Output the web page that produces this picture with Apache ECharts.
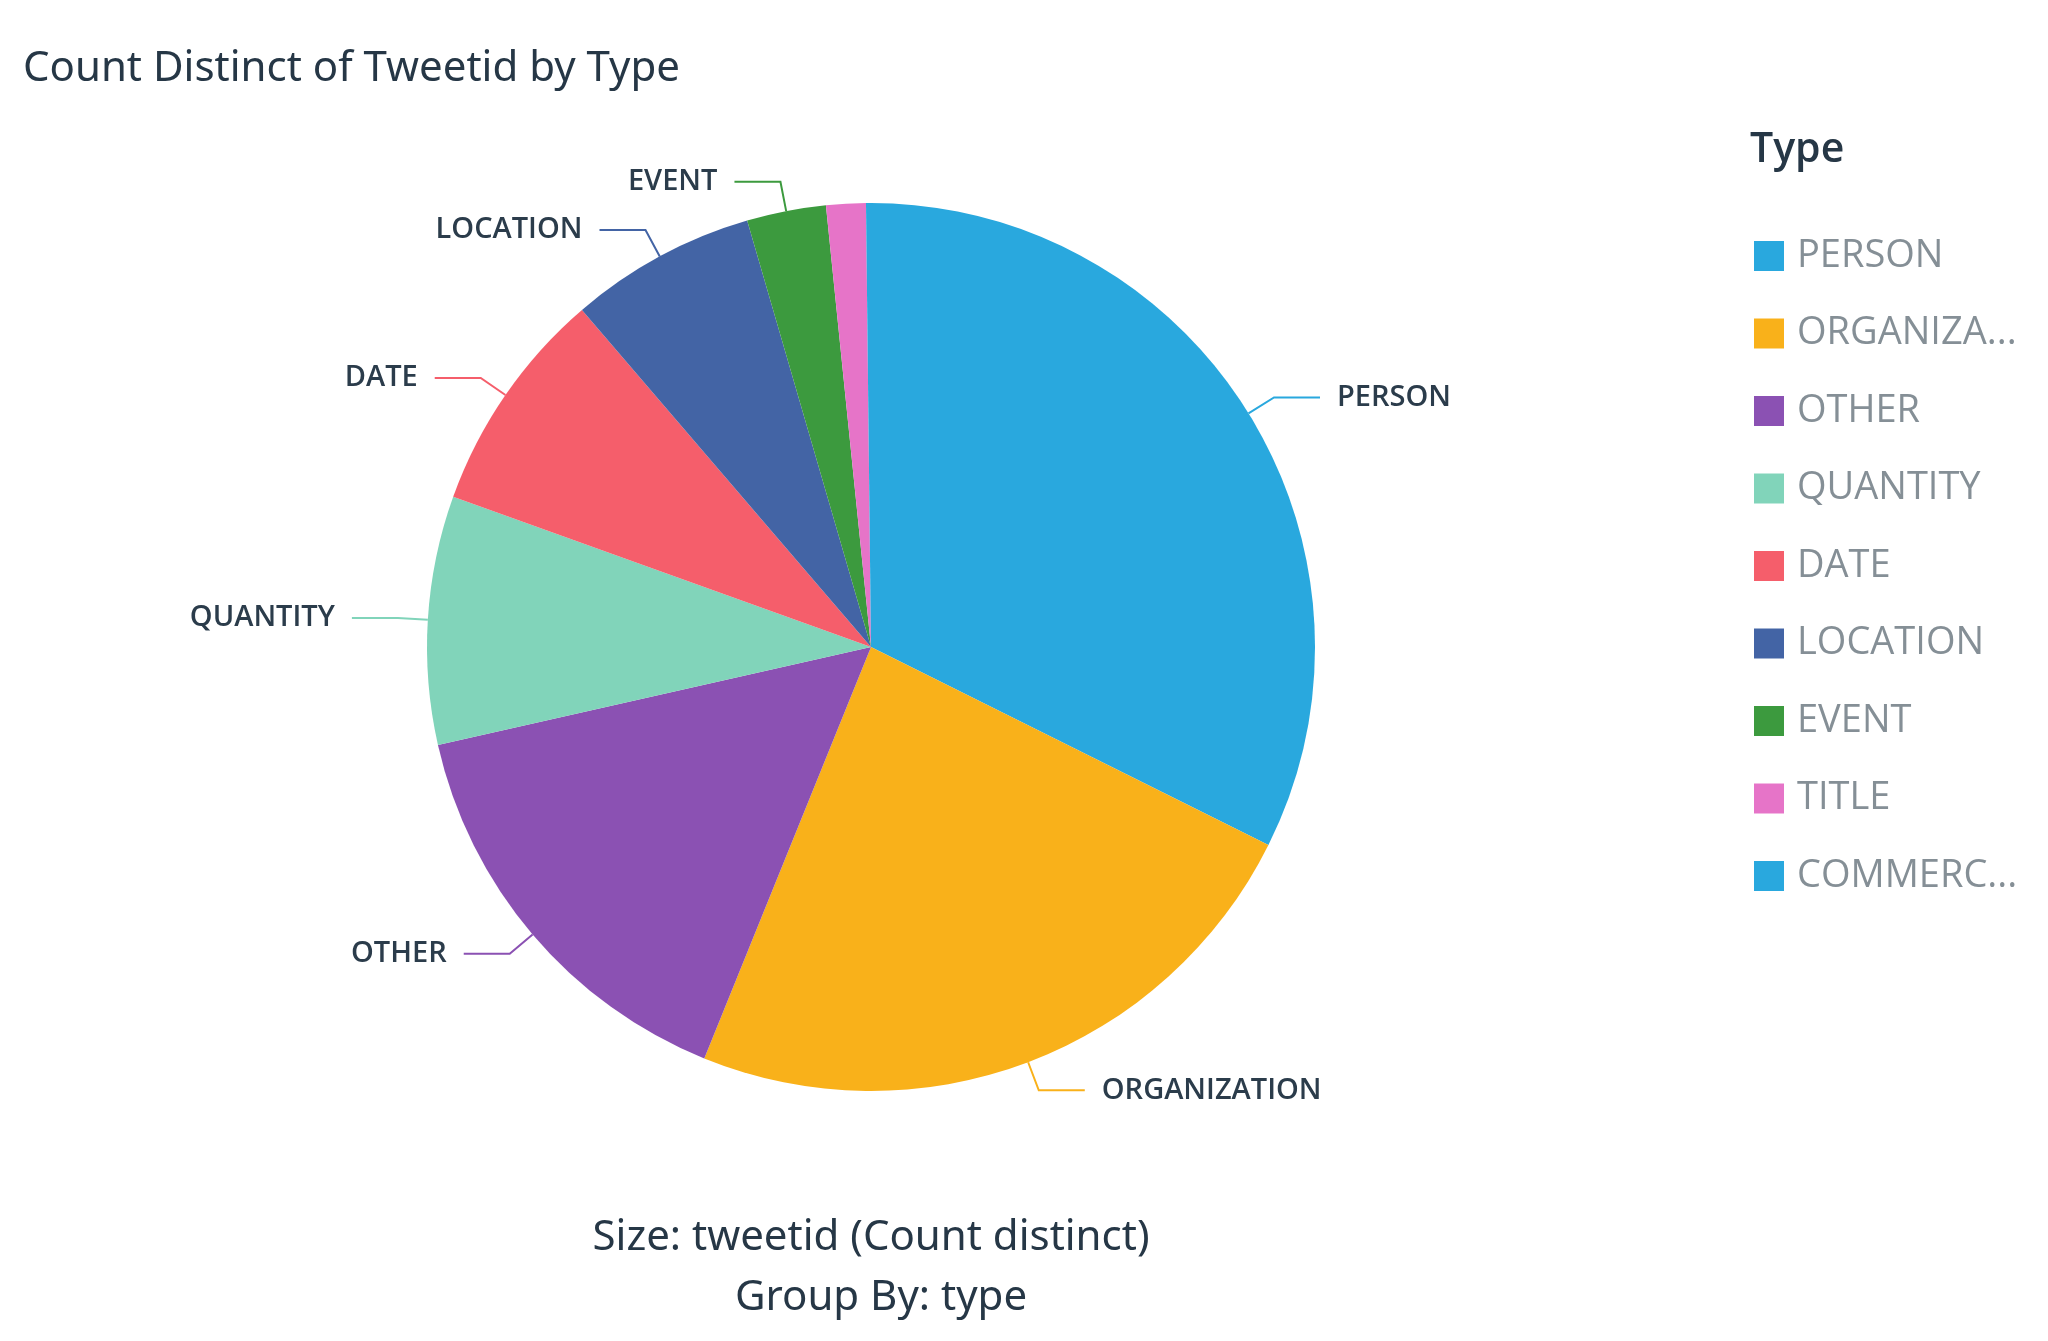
<!DOCTYPE html>
<html>
<head>
<meta charset="utf-8">
<script src="https://cdn.jsdelivr.net/npm/echarts@6/dist/echarts.min.js"></script>
<style>
html,body{margin:0;padding:0;background:#ffffff;}
#chart{width:2048px;height:1341px;}
</style>
</head>
<body>
<div id="chart"></div>
<script>
const categories = ['PERSON','ORGANIZATION','OTHER','QUANTITY','DATE','LOCATION','EVENT','TITLE','COMMERCIAL'];
const counts = [1798, 1321, 852, 502, 457, 377, 160, 80, 10];
const colors = ['#29a8de','#f9b11a','#8b51b3','#81d4ba','#f55e6b','#4364a5','#3c9a3e','#e674c8','#29a8de'];
const hiddenLabels = ['TITLE','COMMERCIAL'];
const chartTitle = 'Count Distinct of Tweetid by Type';
const legendTitle = 'Type';
const footerLines = ['Size: tweetid (Count distinct)', 'Group By: type'];

const chart = echarts.init(document.getElementById('chart'), null, {renderer:'canvas'});
const data = categories.map((c,i)=>{
  const d = {name:c, value:counts[i], itemStyle:{color:colors[i]}};
  if (hiddenLabels.includes(c)) { d.label = {show:false}; d.labelLine = {show:false}; }
  return d;
});
const textColor = '#263746';
chart.setOption({
  backgroundColor:'#ffffff',
  animation:false,
  graphic:[
    {type:'text', x:23, y:69, style:{text:chartTitle, font:'normal 42px "Noto Sans"', fill:textColor, align:'left', verticalAlign:'middle'}},
    {type:'text', x:1750, y:150, style:{text:legendTitle, font:'600 41px "Open Sans"', fill:textColor, align:'left', verticalAlign:'middle'}},
    {type:'text', x:871, y:1238, style:{text:footerLines[0], font:'normal 42px "Noto Sans"', fill:textColor, align:'center', verticalAlign:'middle'}},
    {type:'text', x:881, y:1298, style:{text:footerLines[1], font:'normal 42px "Noto Sans"', fill:textColor, align:'center', verticalAlign:'middle'}}
  ],
  legend:{
    orient:'vertical', left:1749, top:232,
    itemWidth:30, itemHeight:30, itemGap:39.5, icon:'rect',
    selectedMode:false,
    textStyle:{fontFamily:'Open Sans', fontSize:38, color:'#858f96', width:227, overflow:'truncate', ellipsis:'...', padding:[0,0,0,8]},
    data:categories
  },
  series:[{
    type:'pie',
    center:[871,647],
    radius:444,
    startAngle:90,
    clockwise:true,
    avoidLabelOverlap:false,
    label:{show:true, formatter:'{b}', fontFamily:'Open Sans', fontSize:29, fontWeight:600, color:'#2b3c4b', distanceToLabelLine:17},
    labelLine:{show:true, length:30, length2:46, lineStyle:{width:2}},
    itemStyle:{borderWidth:0},
    emphasis:{disabled:true},
    data:data
  }]
});
</script>
</body>
</html>
